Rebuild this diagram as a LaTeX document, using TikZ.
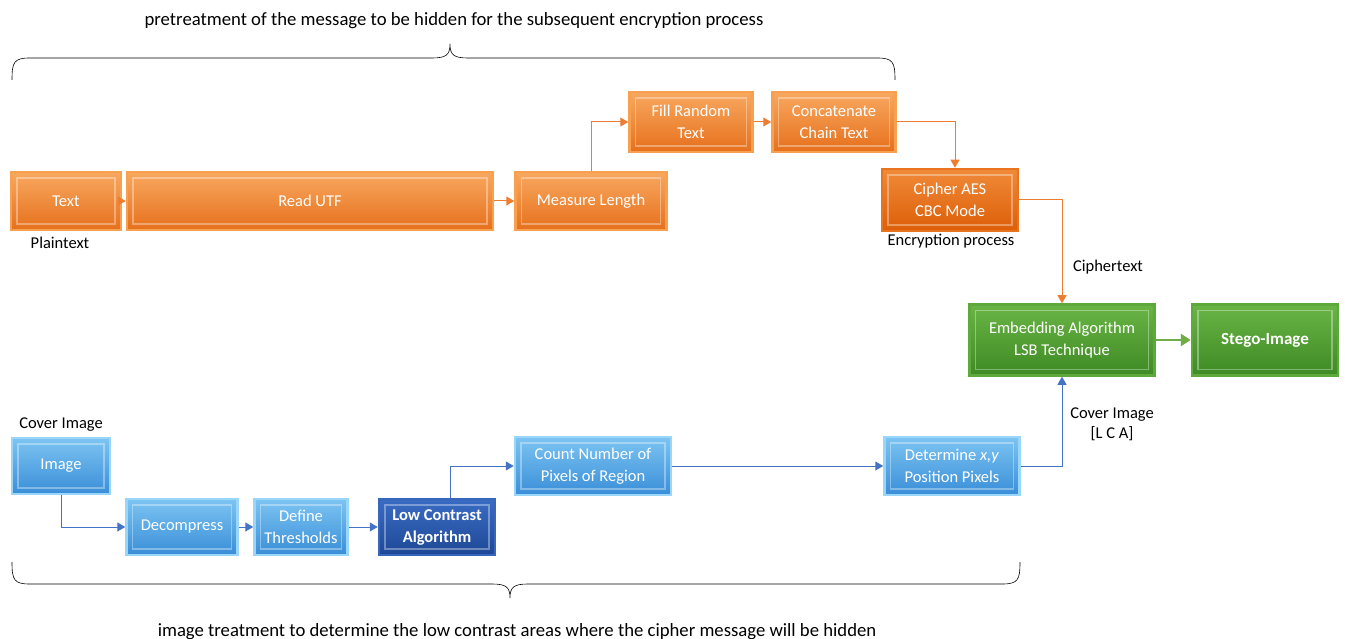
\documentclass[tikz,border=0pt]{standalone}
\usepackage{fontspec}
\setmainfont{Carlito}
\usetikzlibrary{arrows.meta}
\definecolor{OrTop}{HTML}{F8A860}
\definecolor{OrBot}{HTML}{E6701C}
\definecolor{OrEdge}{HTML}{F7A050}
\definecolor{OrDTop}{HTML}{F08A38}
\definecolor{OrDBot}{HTML}{DD5E08}
\definecolor{OrDEdge}{HTML}{E87420}
\definecolor{GrTop}{HTML}{6AB545}
\definecolor{GrBot}{HTML}{3E8A24}
\definecolor{GrEdge}{HTML}{5FA83C}
\definecolor{BlTop}{HTML}{7CC4F2}
\definecolor{BlBot}{HTML}{3A8ED8}
\definecolor{BlEdge}{HTML}{9AD6FA}
\definecolor{DbTop}{HTML}{3A6CC4}
\definecolor{DbBot}{HTML}{1E4896}
\definecolor{DbEdge}{HTML}{3766BA}
\definecolor{ArrO}{HTML}{ED7D31}
\definecolor{ArrB}{HTML}{4472C4}
\definecolor{ArrG}{HTML}{70AD47}
\tikzset{
  box/.style={rectangle, inner sep=2pt, align=center, text=white,
    font=\fontsize{16.5}{22}\selectfont, line width=2.5pt,
    path picture={\draw[white, opacity=0.35, line width=1.2pt]
      ([shift={(6pt,-6pt)}]path picture bounding box.north west) rectangle
      ([shift={(-6pt,6pt)}]path picture bounding box.south east);}},
  obox/.style={box, draw=OrEdge, top color=OrTop, bottom color=OrBot},
  odbox/.style={box, draw=OrDEdge, top color=OrDTop, bottom color=OrDBot},
  gbox/.style={box, draw=GrEdge, top color=GrTop, bottom color=GrBot},
  bbox/.style={box, draw=BlEdge, top color=BlTop, bottom color=BlBot},
  dbbox/.style={box, draw=DbEdge, top color=DbTop, bottom color=DbBot, font=\fontsize{16.5}{22}\selectfont\bfseries},
  lbl/.style={font=\fontsize{16.5}{20}\selectfont, align=center, text=black},
  oarr/.style={draw=ArrO, line width=1pt, -{Triangle[width=9pt,length=8pt]}},
  barr/.style={draw=ArrB, line width=1pt, -{Triangle[width=9pt,length=8pt]}},
  garr/.style={draw=ArrG, line width=2.5pt, -{Triangle[width=12pt,length=10pt]}},
  brace/.style={draw=black, line width=0.6pt}
}
\begin{document}
\begin{tikzpicture}[x=1pt,y=-1pt]
\useasboundingbox (0,0) rectangle (1345,639);
% top row
\node[obox, minimum width=110pt, minimum height=58pt] (text) at (66,201) {Text};
\node[obox, minimum width=366pt, minimum height=58pt] (readutf) at (310,201) {Read UTF};
\node[obox, minimum width=151pt, minimum height=58pt] (measure) at (591,201) {Measure Length};
\node[obox, minimum width=123pt, minimum height=60pt] (fill) at (691,122) {Fill Random\\Text};
\node[obox, minimum width=123pt, minimum height=60pt] (concat) at (834,122) {Concatenate\\Chain Text};
\node[odbox, minimum width=136pt, minimum height=62pt] (cipher) at (950,200) {Cipher AES\\CBC Mode};
\node[gbox, minimum width=185pt, minimum height=71pt] (embed) at (1062,340) {Embedding Algorithm\\LSB Technique};
\node[gbox, minimum width=146pt, minimum height=71pt, font=\fontsize{17}{22}\selectfont\bfseries] (stego) at (1265,340) {Stego-Image};
% bottom row
\node[bbox, minimum width=98pt, minimum height=56pt] (image) at (61,466) {Image};
\node[bbox, minimum width=111pt, minimum height=56pt] (decomp) at (182,527) {Decompress};
\node[bbox, minimum width=93pt, minimum height=56pt] (define) at (301,527) {Define\\Thresholds};
\node[dbbox, minimum width=116pt, minimum height=56pt] (low) at (437,527) {Low Contrast\\Algorithm};
\node[bbox, minimum width=156pt, minimum height=58pt] (count) at (593,466) {Count Number of\\Pixels of Region};
\node[bbox, minimum width=135pt, minimum height=58pt] (determine) at (952,466) {Determine \textit{x,y}\\Position Pixels};
% labels
\node[lbl] (plain) at (60,243) {Plaintext};
\node[lbl] (encp) at (951,241) {Encryption process};
\node[lbl] (ctext) at (1108,267) {Ciphertext};
\node[lbl] (cimg2) at (1112,424) {Cover Image\\{}[L C A]};
\node[lbl] (cimg) at (61,425) {Cover Image};
\node[lbl, font=\fontsize{18.7}{22}\selectfont] (toptitle) at (454,21) {pretreatment of the message to be hidden for the subsequent encryption process};
\node[lbl, font=\fontsize{18.7}{22}\selectfont] (bottitle) at (517,632) {image treatment to determine the low contrast areas where the cipher message will be hidden};
% connectors
\draw[oarr] (text.east) -- (readutf.west);
\draw[oarr] (readutf.east) -- (measure.west);
\draw[oarr] (measure.north) |- (fill.west);
\draw[oarr] (fill.east) -- (concat.west);
\draw[oarr] (concat.east) -| ([xshift=5pt]cipher.north);
\draw[oarr] (cipher.east) -| (embed.north);
\draw[garr] (embed.east) -- (stego.west);
\draw[barr] (determine.east) -| (embed.south);
\draw[barr] (image.south) |- (decomp.west);
\draw[barr] (decomp.east) -- (define.west);
\draw[barr] (define.east) -- (low.west);
\draw[barr] ([xshift=13pt]low.north) |- (count.west);
\draw[barr] (count.east) -- (determine.west);
% braces
\draw[brace] (12,80) .. controls (12,62) and (14,58) .. (30,58) -- (432,58)
  .. controls (446,58) and (450,55) .. (450,44)
  .. controls (450,55) and (454,58) .. (468,58) -- (877,58)
  .. controls (893,58) and (895,62) .. (895,80);
\draw[brace] (12,562) .. controls (12,580) and (14,584) .. (30,584) -- (492,584)
  .. controls (506,584) and (510,587) .. (510,598)
  .. controls (510,587) and (514,584) .. (528,584) -- (1002,584)
  .. controls (1018,584) and (1020,580) .. (1020,562);
\end{tikzpicture}
\end{document}
